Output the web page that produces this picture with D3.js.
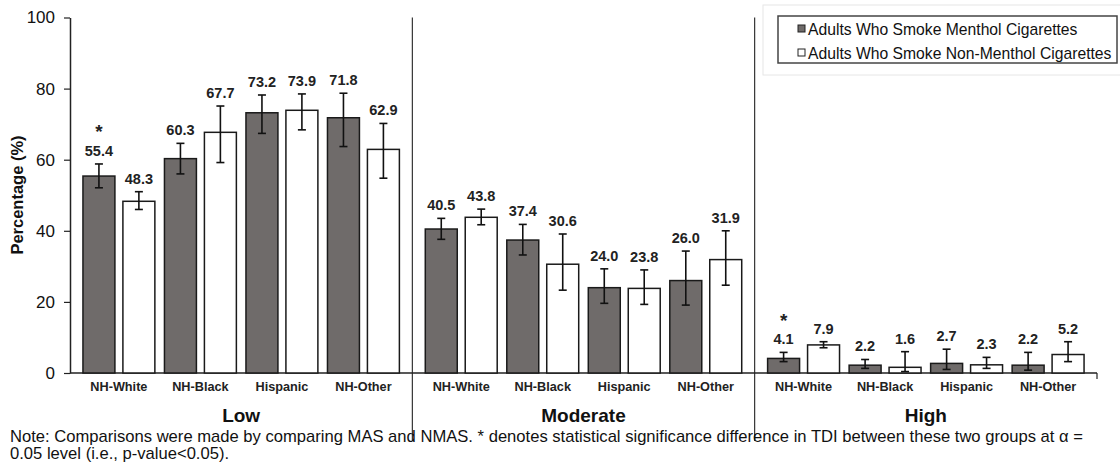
<!DOCTYPE html>
<html>
<head>
<meta charset="utf-8">
<script src="https://cdn.jsdelivr.net/npm/d3@7/dist/d3.min.js"></script>
<style>
  html, body { margin: 0; padding: 0; background: #fff; }
  svg { display: block; font-family: Arial, "Liberation Sans", sans-serif; }
</style>
</head>
<body>
<svg id="chart" width="1120" height="465"></svg>
<script>
const groups = ["Low", "Moderate", "High"];
const categories = ["NH-White", "NH-Black", "Hispanic", "NH-Other"];
const seriesNames = ["Adults Who Smoke Menthol Cigarettes", "Adults Who Smoke Non-Menthol Cigarettes"];
const yTicks = [0, 20, 40, 60, 80, 100];

// order: Low (4 cats), Moderate (4 cats), High (4 cats)
const mentholValues = [55.4, 60.3, 73.2, 71.8, 40.5, 37.4, 24.0, 26.0, 4.1, 2.2, 2.7, 2.2];
const mentholLower  = [52.1, 56.0, 67.4, 63.7, 37.6, 33.2, 19.6, 19.1, 3.2, 1.3, 1.0, 0.8];
const mentholUpper  = [58.8, 64.6, 78.2, 78.7, 43.5, 41.8, 29.3, 34.3, 5.8, 3.8, 6.7, 5.8];
const nonMentholValues = [48.3, 67.7, 73.9, 62.9, 43.8, 30.6, 23.8, 31.9, 7.9, 1.6, 2.3, 5.2];
const nonMentholLower  = [46.0, 59.2, 68.4, 54.8, 41.7, 23.3, 19.3, 24.7, 7.1, 0.4, 1.3, 3.2];
const nonMentholUpper  = [51.0, 75.1, 78.5, 70.2, 46.1, 39.1, 29.0, 40.0, 8.8, 6.0, 4.4, 8.8];
const mentholSignificant = [true, false, false, false, false, false, false, false, true, false, false, false];

const yTitle = "Percentage (%)";
const noteLines = [
  "Note: Comparisons were made by comparing MAS and NMAS. * denotes statistical significance difference in TDI between these two groups at \u03b1 =",
  "0.05 level (i.e., p-value<0.05)."
];

const colors = ["#6f6b6a", "#ffffff"];

const svg = d3.select("#chart");
const plotLeft = 70, plotRight = 1097, plotTop = 17.5, plotBottom = 373;

const y = d3.scaleLinear().domain([0, 100]).range([plotBottom, plotTop]);
const xGroup = d3.scaleBand().domain(groups).range([plotLeft, plotRight]).padding(0);
const xCat = d3.scaleBand().domain(categories).range([0, xGroup.bandwidth()]).paddingInner(0).paddingOuter(0.1);
const xSer = d3.scaleBand().domain([0, 1]).range([0, xCat.bandwidth()]).paddingInner(0.2).paddingOuter(0.12);

const records = [];
groups.forEach((g, gi) => {
  categories.forEach((c, ci) => {
    const i = gi * categories.length + ci;
    records.push({ g, c, s: 0, v: mentholValues[i], lo: mentholLower[i], hi: mentholUpper[i], sig: mentholSignificant[i] });
    records.push({ g, c, s: 1, v: nonMentholValues[i], lo: nonMentholLower[i], hi: nonMentholUpper[i], sig: false });
  });
});
const bx = d => xGroup(d.g) + xCat(d.c) + xSer(d.s);
const cx = d => bx(d) + xSer.bandwidth() / 2;

// group separators
svg.append("g").selectAll("line")
  .data(groups.slice(1))
  .join("line")
  .attr("x1", d => xGroup(d)).attr("x2", d => xGroup(d))
  .attr("y1", plotTop).attr("y2", 441)
  .attr("stroke", "#222").attr("stroke-width", 1.1);

// y axis
const yAxis = svg.append("g")
  .attr("transform", `translate(${plotLeft},0)`)
  .call(d3.axisLeft(y).tickValues(yTicks).tickSize(6).tickPadding(9).tickSizeOuter(0));
yAxis.select(".domain").attr("stroke", "#222").attr("stroke-width", 1.5);
yAxis.selectAll(".tick line").attr("stroke", "#222").attr("stroke-width", 1.2);
yAxis.selectAll(".tick text").attr("font-size", 17).attr("fill", "#111").attr("font-family", "Arial, 'Liberation Sans', sans-serif");

// x axis baseline
svg.append("line")
  .attr("x1", plotLeft).attr("x2", plotRight)
  .attr("y1", y(0)).attr("y2", y(0))
  .attr("stroke", "#222").attr("stroke-width", 1.5);
svg.append("line")
  .attr("x1", plotRight).attr("x2", plotRight)
  .attr("y1", y(0)).attr("y2", y(0) + 6)
  .attr("stroke", "#222").attr("stroke-width", 1.2);

// bars
svg.append("g").selectAll("rect")
  .data(records)
  .join("rect")
  .attr("x", bx)
  .attr("y", d => y(d.v))
  .attr("width", xSer.bandwidth())
  .attr("height", d => y(0) - y(d.v))
  .attr("fill", d => colors[d.s])
  .attr("stroke", "#1a1a1a")
  .attr("stroke-width", 1.5);

// error bars
const eb = svg.append("g").attr("stroke", "#111").attr("stroke-width", 1.6);
eb.selectAll("line.v").data(records).join("line").attr("class", "v")
  .attr("x1", cx).attr("x2", cx)
  .attr("y1", d => y(d.lo)).attr("y2", d => y(d.hi));
eb.selectAll("line.t").data(records).join("line").attr("class", "t")
  .attr("x1", d => cx(d) - 4).attr("x2", d => cx(d) + 4)
  .attr("y1", d => y(d.hi)).attr("y2", d => y(d.hi));
eb.selectAll("line.b").data(records).join("line").attr("class", "b")
  .attr("x1", d => cx(d) - 4).attr("x2", d => cx(d) + 4)
  .attr("y1", d => y(d.lo)).attr("y2", d => y(d.lo));

// value labels
svg.append("g").selectAll("text")
  .data(records)
  .join("text")
  .attr("x", cx)
  .attr("y", d => y(d.hi) - 8)
  .attr("text-anchor", "middle")
  .attr("font-size", 14.5)
  .attr("font-weight", "bold")
  .attr("fill", "#222")
  .text(d => d.v.toFixed(1));

// significance asterisks
svg.append("g").selectAll("text")
  .data(records.filter(d => d.sig))
  .join("text")
  .attr("x", cx)
  .attr("y", d => y(d.hi) - 8 - 17.5)
  .attr("text-anchor", "middle")
  .attr("font-size", 19)
  .attr("font-weight", "bold")
  .attr("fill", "#222")
  .text("*");

// category labels
const catLabels = [];
groups.forEach(g => categories.forEach(c => catLabels.push({ g, c })));
svg.append("g").selectAll("text")
  .data(catLabels)
  .join("text")
  .attr("x", d => xGroup(d.g) + xCat(d.c) + xCat.bandwidth() / 2)
  .attr("y", 391)
  .attr("text-anchor", "middle")
  .attr("font-size", 12.7)
  .attr("font-weight", "bold")
  .attr("fill", "#222")
  .text(d => d.c);

// group labels
svg.append("g").selectAll("text")
  .data(groups)
  .join("text")
  .attr("x", d => xGroup(d) + xGroup.bandwidth() / 2)
  .attr("y", 422)
  .attr("text-anchor", "middle")
  .attr("font-size", 19)
  .attr("font-weight", "bold")
  .attr("fill", "#111")
  .text(d => d);

// y title
svg.append("text")
  .attr("transform", `translate(23,195) rotate(-90)`)
  .attr("text-anchor", "middle")
  .attr("font-size", 16.5)
  .attr("font-weight", "bold")
  .attr("fill", "#111")
  .text(yTitle);

// note
svg.append("g").selectAll("text")
  .data(noteLines)
  .join("text")
  .attr("x", 10)
  .attr("y", (d, i) => 442 + i * 17)
  .attr("font-size", 16.6)
  .attr("fill", "#111")
  .text(d => d);

// legend
const lg = svg.append("g");
lg.append("rect").attr("x", 763).attr("y", 5).attr("width", 370).attr("height", 70)
  .attr("fill", "#fff").attr("stroke", "#e6e6e6").attr("stroke-width", 1);
lg.append("rect").attr("x", 778).attr("y", 16).attr("width", 339).attr("height", 47)
  .attr("fill", "#fff").attr("stroke", "#444").attr("stroke-width", 1.5);
const items = lg.selectAll("g.item").data(seriesNames).join("g").attr("class", "item")
  .attr("transform", (d, i) => `translate(0,${34.5 + i * 24})`);
items.append("rect").attr("x", 798).attr("y", -9.5).attr("width", 7).attr("height", 7)
  .attr("fill", (d, i) => colors[i]).attr("stroke", "#222").attr("stroke-width", 1);
items.append("text").attr("x", 808).attr("y", 0)
  .attr("font-size", 15.7).attr("fill", "#111")
  .text(d => d);
</script>
</body>
</html>
